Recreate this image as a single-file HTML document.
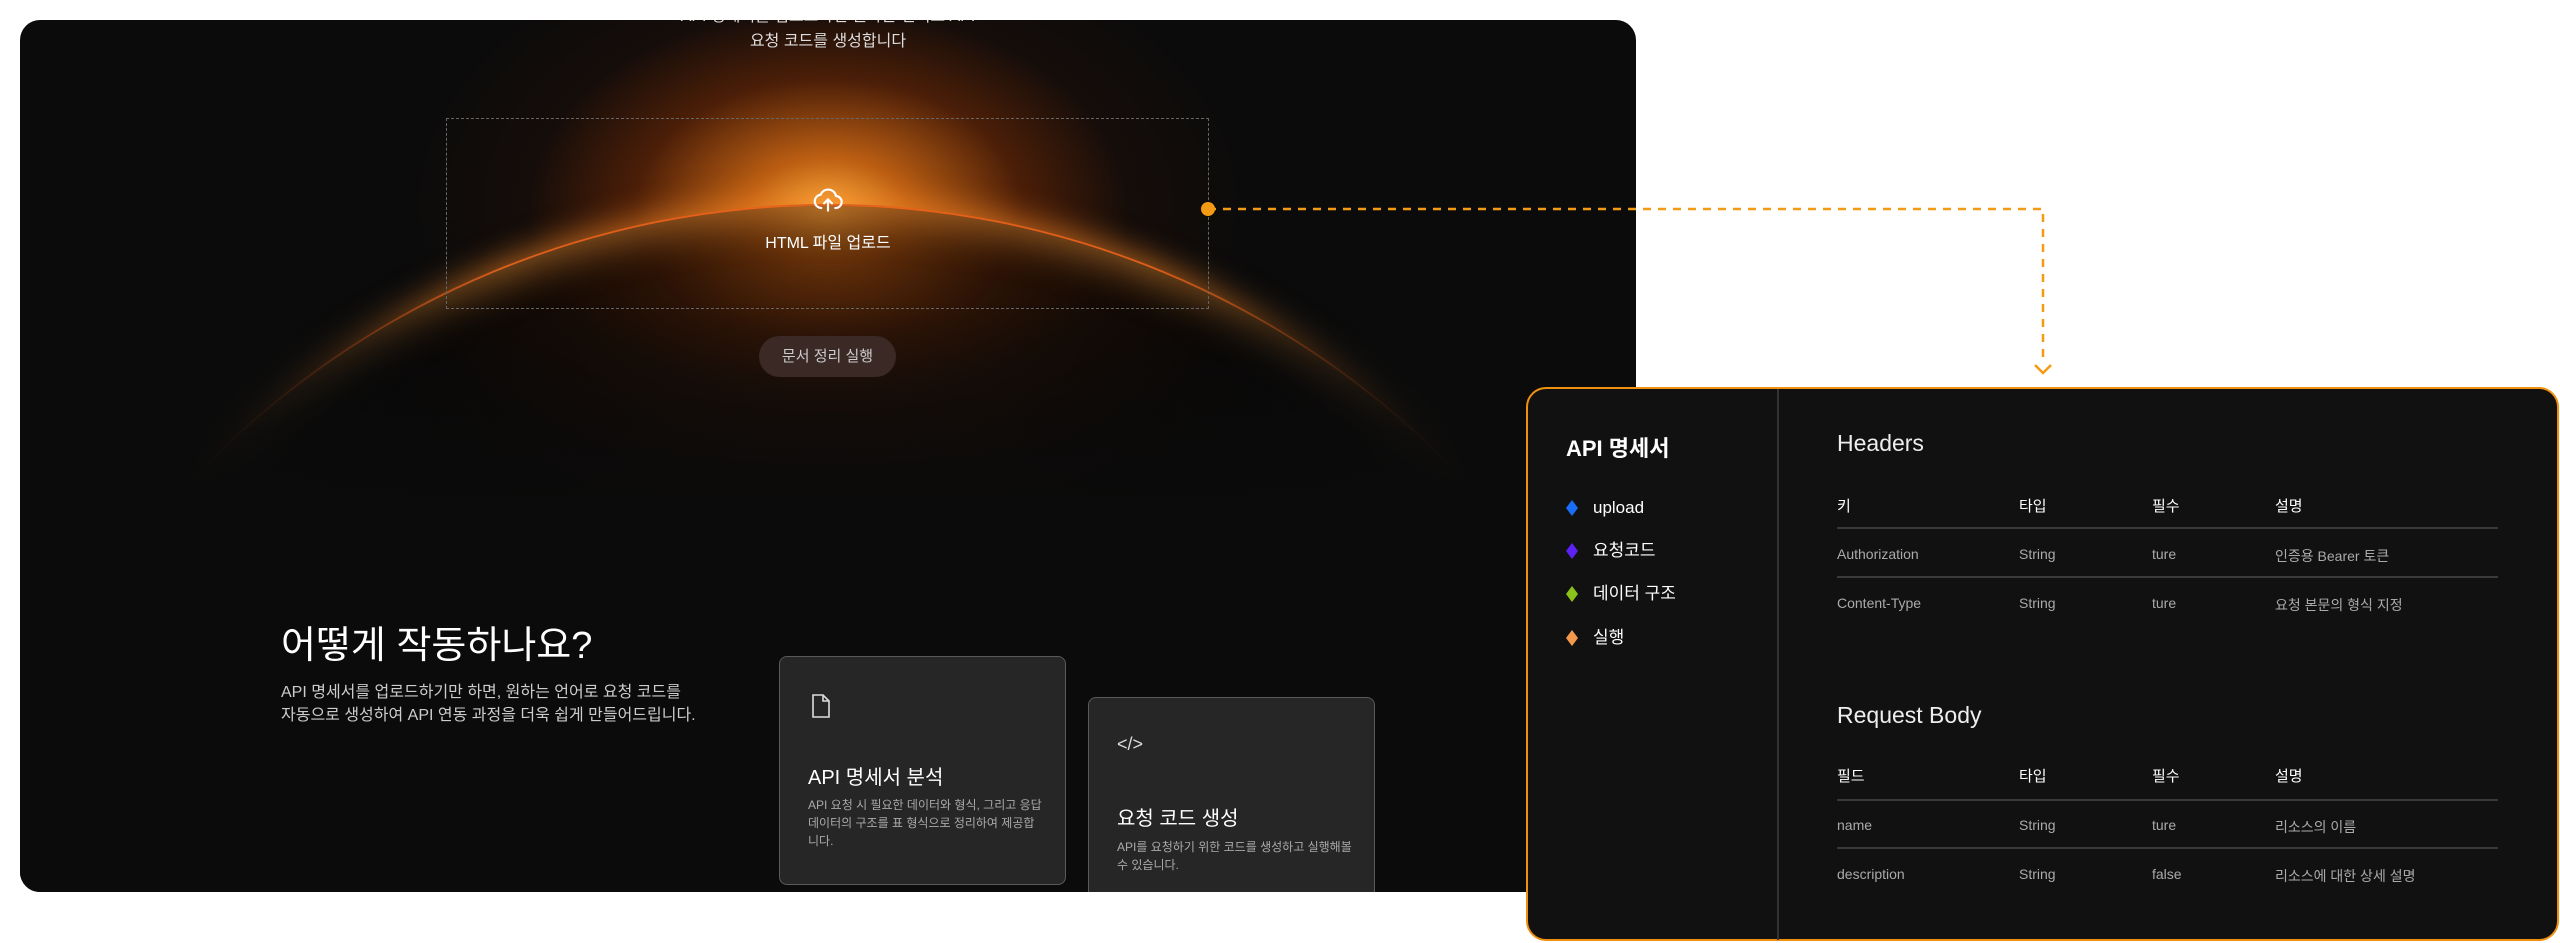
<!DOCTYPE html>
<html><head><meta charset="utf-8"><style>
*{margin:0;padding:0;box-sizing:border-box}
html,body{width:2560px;height:943px;overflow:hidden}
body{background:#fff;position:relative;font-family:"Liberation Sans","Noto Sans CJK KR",sans-serif}
.a{position:absolute;white-space:nowrap}
#p{position:absolute;left:20px;top:20px;width:1616px;height:872px;border-radius:20px;background:#0b0b0b;overflow:hidden}
#glow{position:absolute;left:-200px;top:-300px;width:2016px;height:900px;background:radial-gradient(ellipse 430px 290px at 1008px 490px,rgba(250,170,60,1) 0%,rgba(220,110,20,.85) 18%,rgba(140,50,5,.5) 45%,rgba(60,20,5,.2) 70%,rgba(0,0,0,0) 100%)}
#circ{position:absolute;left:-66px;top:184px;width:1748px;height:1748px;border-radius:50%;border:2px solid rgba(255,110,30,.85);box-shadow:0 -6px 30px rgba(255,140,40,.6), inset 0 10px 40px rgba(255,160,60,.5);background:radial-gradient(circle at 50% 0%,rgba(60,25,5,.6) 0%,#050505 25%,#0a0a0a 60%)}
#fade{position:absolute;left:0;top:200px;width:1616px;height:500px;background:linear-gradient(90deg,#0b0b0b 10%,rgba(11,11,11,0) 30%,rgba(11,11,11,0) 70%,#0b0b0b 90%)}
#fade2{position:absolute;left:0;top:280px;width:1616px;height:600px;background:linear-gradient(180deg,rgba(11,11,11,0),#0b0b0b 35%)}
.card{position:absolute;background:#262626;border:1.5px solid #5a5a5a;border-radius:8px}
.hdr{color:#fff;font-size:15px}
.cell{color:#aaa;font-size:14px}
.ln{position:absolute;left:1837px;width:661px;height:2px;background:#3a3a3a}
</style></head><body>
<div id="p">
 <div id="glow"></div>
 <div id="circ"></div>
 <div id="fade"></div>
 <div id="fade2"></div>
 <div class="a" style="left:0;width:1616px;text-align:center;top:-18px;color:#ddd;font-size:16px">API 명세서를 업로드하면 원하는 언어로 API</div>
 <div class="a" style="left:0;width:1616px;text-align:center;top:7px;color:#ddd;font-size:16px">요청 코드를 생성합니다</div>
 <div style="position:absolute;left:426px;top:98px;width:763px;height:191px;border:1.5px dashed #666"></div>
 <svg class="a" style="left:792px;top:164px" width="32" height="32" viewBox="0 0 24 24" fill="none" stroke="#fff" stroke-width="1.6" stroke-linecap="round" stroke-linejoin="round"><path d="M7 18a5 5 0 0 1-.5-9.97A6 6 0 0 1 18 9a4.5 4.5 0 0 1-.5 9"/><path d="M12 20v-8M9 14.5l3-3 3 3"/></svg>
 <div class="a" style="left:708px;width:200px;text-align:center;top:209px;color:#fff;font-size:16px">HTML 파일 업로드</div>
 <div class="a" style="left:739px;top:316px;width:137px;height:41px;border-radius:21px;background:#3a2925;color:#ccc;font-size:15px;text-align:center;line-height:41px">문서 정리 실행</div>
 <div class="a" style="left:261px;top:594px;color:#fff;font-size:38px">어떻게 작동하나요?</div>
 <div class="a" style="left:261px;top:661px;color:#ccc;font-size:16px;line-height:23px">API 명세서를 업로드하기만 하면, 원하는 언어로 요청 코드를<br>자동으로 생성하여 API 연동 과정을 더욱 쉽게 만들어드립니다.</div>
 <div class="card" style="left:759px;top:636px;width:287px;height:229px">
  <svg class="a" style="left:30px;top:36px" width="22" height="26" viewBox="0 0 22 26" fill="none" stroke="#ddd" stroke-width="1.6"><path d="M3 2h10l6 6v16H3z"/><path d="M13 2v6h6"/></svg>
  <div class="a" style="left:28px;top:104px;color:#fff;font-size:20px">API 명세서 분석</div>
  <div class="a" style="left:28px;top:139px;color:#aaa;font-size:12px;line-height:18px">API 요청 시 필요한 데이터와 형식, 그리고 응답<br>데이터의 구조를 표 형식으로 정리하여 제공합<br>니다.</div>
 </div>
 <div class="card" style="left:1068px;top:677px;width:287px;height:240px">
  <div class="a" style="left:28px;top:36px;color:#ddd;font-size:18px">&lt;/&gt;</div>
  <div class="a" style="left:28px;top:104px;color:#fff;font-size:20px">요청 코드 생성</div>
  <div class="a" style="left:28px;top:140px;color:#aaa;font-size:12px;line-height:18px">API를 요청하기 위한 코드를 생성하고 실행해볼<br>수 있습니다.</div>
 </div>
</div>
<svg class="a" style="left:0;top:0" width="2560" height="943">
 <path d="M1208 209H2043V362" fill="none" stroke="#f59a14" stroke-width="2.5" stroke-dasharray="8 7"/>
 <path d="M2035 365l8 8 8-8" fill="none" stroke="#f59a14" stroke-width="2.5"/>
 <circle cx="1208" cy="209" r="7" fill="#f59a14"/>
</svg>
<div style="position:absolute;left:1526px;top:387px;width:1033px;height:554px;border:2px solid #f0900f;border-radius:20px;background:#111"></div>
<div class="a" style="left:1777px;top:389px;width:2px;height:551px;background:#333"></div>
<div class="a" style="left:1566px;top:431px;color:#fff;font-size:22px;font-weight:bold">API 명세서</div>
<svg class="a" style="left:1564px;top:498px" width="16" height="160">
 <path d="M8 2l6 8-6 8-6-8z" fill="#1a6ef5"/><path d="M8 45l6 8-6 8-6-8z" fill="#5b21f5"/><path d="M8 88l6 8-6 8-6-8z" fill="#8bc21a"/><path d="M8 132l6 8-6 8-6-8z" fill="#f39a4a"/></svg>
<div class="a" style="left:1593px;top:497px;color:#fff;font-size:17px;line-height:22px">upload</div>
<div class="a" style="left:1593px;top:540px;color:#fff;font-size:17px;line-height:22px">요청코드</div>
<div class="a" style="left:1593px;top:583px;color:#fff;font-size:17px;line-height:22px">데이터 구조</div>
<div class="a" style="left:1593px;top:627px;color:#fff;font-size:17px;line-height:22px">실행</div>
<div class="a" style="left:1837px;top:430px;color:#eee;font-size:23px;font-weight:300">Headers</div>
<div class="a hdr" style="left:1837px;top:495px">키</div><div class="a hdr" style="left:2019px;top:495px">타입</div><div class="a hdr" style="left:2152px;top:495px">필수</div><div class="a hdr" style="left:2275px;top:495px">설명</div>
<div class="ln" style="top:527px"></div>
<div class="a cell" style="left:1837px;top:546px">Authorization</div><div class="a cell" style="left:2019px;top:546px">String</div><div class="a cell" style="left:2152px;top:546px">ture</div><div class="a cell" style="left:2275px;top:546px">인증용 Bearer 토큰</div>
<div class="ln" style="top:576px"></div>
<div class="a cell" style="left:1837px;top:595px">Content-Type</div><div class="a cell" style="left:2019px;top:595px">String</div><div class="a cell" style="left:2152px;top:595px">ture</div><div class="a cell" style="left:2275px;top:595px">요청 본문의 형식 지정</div>
<div class="a" style="left:1837px;top:702px;color:#eee;font-size:23px;font-weight:300">Request Body</div>
<div class="a hdr" style="left:1837px;top:765px">필드</div><div class="a hdr" style="left:2019px;top:765px">타입</div><div class="a hdr" style="left:2152px;top:765px">필수</div><div class="a hdr" style="left:2275px;top:765px">설명</div>
<div class="ln" style="top:799px"></div>
<div class="a cell" style="left:1837px;top:817px">name</div><div class="a cell" style="left:2019px;top:817px">String</div><div class="a cell" style="left:2152px;top:817px">ture</div><div class="a cell" style="left:2275px;top:817px">리소스의 이름</div>
<div class="ln" style="top:847px"></div>
<div class="a cell" style="left:1837px;top:866px">description</div><div class="a cell" style="left:2019px;top:866px">String</div><div class="a cell" style="left:2152px;top:866px">false</div><div class="a cell" style="left:2275px;top:866px">리소스에 대한 상세 설명</div>
</body></html>
